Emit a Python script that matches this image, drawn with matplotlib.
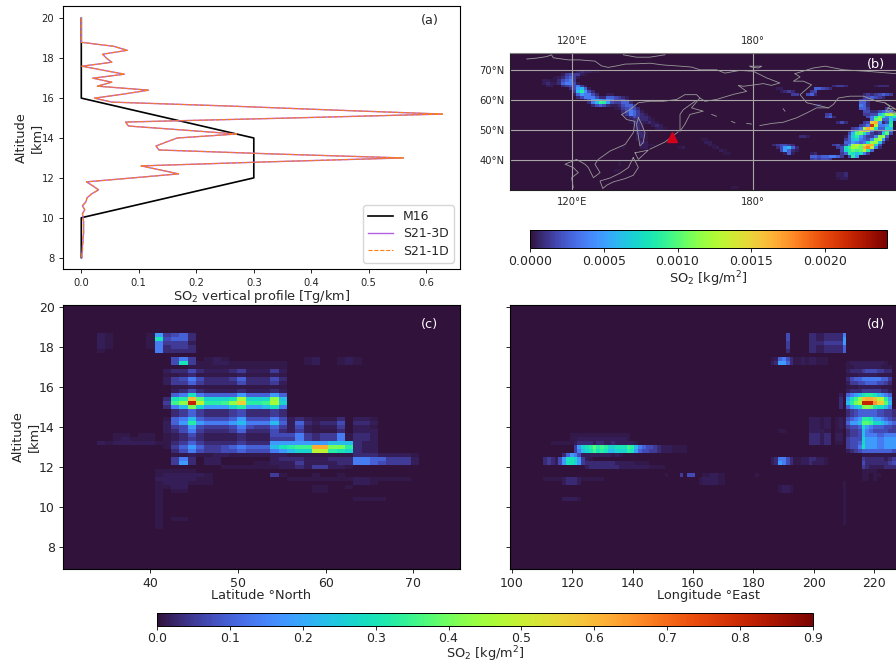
import numpy as np
import matplotlib
matplotlib.use("Agg")
import matplotlib.pyplot as plt

W, H = 896, 663
TEXT = "#262626"
CMAP = "turbo"

# cell levels: one character per cell, looked up as a share of the colour range
LEVELS = "0123456789abcdefghijklmnopqrstuvwx"
LOW_SHARES = [0, .008, .018, .032, .055, .08, .11, .15, .2, .25]

# (a) vertical profiles
ALTITUDE = np.linspace(20, 8, 61)
S21_PROFILE = [0, 0, 0, 0, 0, 0, 0,
               .056, .08, .037, .044, .053, .001, .038, .075, .02, .053, .028, .117, .073, .023,
               .053, .26, .44, .628, .36, .077, .082, .177, .27, .167, .148, .13, .135, .334, .56,
               .32, .104, .137, .169, .09, .009, .02, .03, .018, .01, .008, .002, .006, .002, .003,
               .004, .004, .004, .004, .003, .003, .002, .002, .001, .001]
M16_ALT = [20, 16, 14, 12, 10, 8]
M16_VAL = [0, 0, 0.3, 0.3, 0, 0]

# (c) altitude / latitude cells, rows from 18.7 km downwards
C_ROWS = [
    [(0, "2100001845 63")], [(0, "2100001b56 63")], [(0, "2100001744 42")], [(0, "2100001734 43")],
    [(0, "1000000733 33")], [],
    [(0, "0000000005 7401210000 0000012001 21")],
    [(0, "0000000005 b411221111 1110012001 21")],
    [(0, "0000000000 0111111111 111")],
    [(0, "0000000023 3532223422 242")],
    [(0, "0000000011 2311111211 121")],
    [(0, "0000000024 5753334633 353")],
    [(0, "0000000024 4643333533 342")],
    [(0, "0000000001 1211111111 111")],
    [(0, "0000000002 3532222322 232")],
    [(0, "0000000006 7b76666866 686")],
    [(0, "000000003b cmeaaabhaa ag9")],
    [(0, "000000004d guiccdglcc dha")],
    [(0, "0000000037 9fa888ac88 9b7")],
    [(0, "0000000003 4643334533 343")],
    [(0, "0000000003 4643334533 343")],
    [(0, "0000000016 7965556855 5752321113 0221")],
    [(0, "0000000026 8c87778977 7962632335 0332")],
    [(0, "0000000024 5854445754 4642521224 0221")],
    [(0, "0000000023 5743334633 3532421113 0222")],
    [(0, "0011011012 3532222322 2555743447 1332")],
    [(0, "0012111012 3432222322 2444743447 1332")],
    [(0, "2122222113 4643333433 3888888899 9322")],
    [(0, "0000000014 6864456766 69bcddnnff c322")],
    [(0, "0000000003 5754455655 5789aaiicb a322")],
    [(0, "0000000001 1211221111 1221111111 133322221")],
    [(0, "0000000004 7302200000 0233322233 377664442")],
    [(0, "0000000004 8302200001 1222422223 377654442")],
    [(15, "11111"), (20, "1122324422 1")],
    [(7, "111 11")],
    [(7, "122 2221"), (21, "41"), (26, "1"), (29, "1")],
    [(7, "222 2211"), (23, "1111111 12211111")],
    [(7, "122 2111"), (31, "221")],
    [(7, "112 2"), (26, "11"), (30, "1")],
    [(7, "101 1"), (26, "11")],
    [(7, "1")],
    [(7, "1"), (31, "1111")],
    [(7, "1")], [(7, "1")], [(7, "1")], [(7, "1")],
    [(7, "101 1")],
    [(7, "1")], [(7, "1")],
]

# (d) altitude / longitude cells, same rows
D_ROWS = [
    [(72, "5"), (78, "3322333337")],
    [(72, "5"), (78, "3322333338")],
    [(72, "4"), (78, "3333444448")],
    [(72, "4"), (78, "3322333336")],
    [(72, "3"), (78, "3322333336")],
    [],
    [(68, "126753112122111")],
    [(68, "238863112122111"), (88, "12222222221")],
    [(88, "112222222111")],
    [(88, "233345554433")],
    [(88, "111222221111")],
    [(88, "356677777664")],
    [(88, "244556665543")],
    [(88, "111222222111")],
    [(88, "233344444332")],
    [(86, "2"), (88, "6789bccb9876")],
    [(86, "3"), (88, "8bdgmnnmhic8")],
    [(86, "3"), (88, "9cfhuuuolle9")],
    [(86, "3"), (88, "689afgfcbb97")],
    [(88, "3456666655443")],
    [(88, "34566666554432")],
    [(78, "222122"), (85, "121"), (88, "5678ccb8876543")],
    [(78, "222122"), (85, "121"), (88, "6889eedaa98765")],
    [(78, "222122"), (85, "121"), (88, "4556a876665543")],
    [(70, "11"), (78, "222211"), (85, "11"), (88, "34459765555443")],
    [(15, "1111111111111111"), (78, "333233"), (85, "22"), (88, "34459777667777")],
    [(15, "1122222222222221"), (78, "333233"), (85, "22"), (88, "4555a888778888")],
    [(10, "111111"), (16, "23333233223222221"), (78, "333233"), (85, "11"), (88, "4556a888778888")],
    [(16, "48abcecdcaabbbdc97655432221111"), (88, "4557b888778888")],
    [(16, "479abdbcb99aaacb86554432221111"), (88, "23456666666655")],
    [(13, "3687522222222121"), (92, "1111111111")],
    [(8, "343258bba8421"), (68, "237753112233221"), (92, "4333332344")],
    [(8, "343258bba843333333322222 1111"), (68, "238753112232221"), (92, "5333333454")],
    [(19, "2 33333333 22222222 1111"), (92, "4322223333")],
    [(92, "1111")],
    [(40, "1"), (44, "4"), (46, "55"), (50, "112211"), (64, "1"), (92, "11"), (95, "11")],
    [(8, "1111123332111111"), (49, "1222211"), (92, "11"), (95, "1")],
    [(13, "23332"), (49, "1222211"), (87, "1")],
    [(70, "1221"), (87, "1")],
    [(70, "1221"), (87, "1")],
    [(87, "1")],
    [(13, "22221"), (87, "1")],
    [(87, "1")], [(87, "1")], [(87, "1")], [(87, "1")], [(87, "1")], [(87, "1")], [],
]

# (b) column load cells, rows from 70.9N downwards, columns from 100E
MAP_ROWS = [
    [],
    [(17, "232211")],
    [(13, "2454421")],
    [(11, "1235642")],
    [(8, "221135674")],
    [(8, "2322367752")],
    [(9, "22"), (13, "3455742"), (85, "3443"), (96, "2333")],
    [(15, "358962"), (70, "22"), (80, "66543")],
    [(16, "49c853"), (71, "2343"), (79, "45")],
    [(16, "2687753"), (25, "22"), (74, "44"), (78, "563"), (93, "34345654")],
    [(17, "35777533665432"), (93, "4565"), (97, "43")],
    [(19, "358987875553"), (92, "4543")],
    [(20, "379dc8544663"), (92, "663")],
    [(21, "356532235663"), (80, "23"), (92, "763")],
    [(27, "1245653"), (92, "664"), (99, "4")],
    [(29, "357642"), (93, "553"), (96, "35677")],
    [(29, "2476432"), (83, "45"), (93, "44559cgie")],
    [(30, "2354332"), (83, "563"), (94, "57cfb79b")],
    [(31, "2333321"), (95, "7eg66a7")],
    [(31, "13322321"), (86, "353"), (93, "45ln835b")],
    [(32, "232"), (37, "232"), (92, "457th778c")],
    [(32, "232"), (38, "221"), (90, "457hnkb66a9")],
    [(32, "132"), (89, "37cimg7348d7")],
    [(33, "331"), (89, "59efb7434ae5")],
    [(33, "231"), (76, "332"), (88, "26ac86447fg6")],
    [(33, "221"), (50, "11"), (88, "469a7658fh83")],
    [(34, "32"), (51, "22"), (88, "668767bgg94")],
    [(34, "2211"), (52, "21"), (69, "345543"), (85, "453"), (88, "58gjfinna5")],
    [(29, "1"), (34, "22"), (44, "12"), (53, "12"), (70, "358963"), (86, "45"), (88, "bdhgenpi73")],
    [(55, "21"), (71, "58632"), (87, "5acedejc6")],
    [(56, "11"), (72, "262"), (79, "23"), (87, "46cb9b74")],
    [(79, "665667764"), (89, "5c8")],
    [(79, "454554")],
    [(28, "1")],
    [(28, "1")],
    [],
    [(27, "11")],
    [(86, "223")],
    [(86, "223")],
    [(86, "122")],
    [],
    [],
    [(58, "11")],
]

# coast outlines as lon, lat
COASTS = [
    [(104.9, 73.8), (108.2, 74.1), (111.5, 74.6), (113.1, 75.2), (113.7, 74.2), (118.7, 73.5), (122.5, 73.5),
     (124.8, 73.3), (127.5, 73.1), (129.7, 71.5), (131.9, 71.0), (134.7, 71.5), (137.5, 72.1), (141.3, 72.2),
     (145.7, 72.4), (150.2, 71.8), (154.6, 71.5), (159.6, 71.1), (162.3, 70.2), (167.8, 70.2), (170.6, 69.1),
     (175.6, 70), (180, 69.7), (184.4, 67.5), (188.8, 65.8), (186, 65), (183.3, 65.6), (180.6, 65.2),
     (176.7, 64.7), (175, 65), (177.8, 63), (173.4, 62), (167.8, 60.3), (164, 59.7), (162.3, 60.8)],
    [(136.9, 75.2), (141.3, 74.4), (145.7, 74.4), (150.7, 75.2)],
    [(136.4, 55.3), (139.1, 56.9), (141.9, 59.2), (145.7, 59.7), (150.2, 59.7), (154.6, 60.3), (157.3, 61.9),
     (161.2, 61.9), (162.3, 60.8), (159.5, 57.5), (163.4, 56.4), (159, 55.3), (157.3, 52), (155.7, 49.7),
     (155.7, 55.3), (156.8, 56.9), (160.7, 59.7)],
    [(155.1, 49.5), (150.7, 46.1), (145.7, 43.7)],
    [(141.9, 54.2), (143, 52), (144.1, 49.2), (143.5, 45.9), (142.4, 44.8), (141.9, 48.1), (141.3, 52), (141.9, 54.2)],
    [(136.4, 55.3), (138, 53.6), (140.8, 53), (140.2, 49.2), (137.5, 45.3), (132.5, 43.1), (128.6, 40.3),
     (127.5, 38.7), (129.2, 35.9), (127, 34.2), (125.3, 37.6), (124.2, 38.7), (121.4, 40.3), (117.6, 38.7),
     (120.3, 37.6), (122, 35.9), (119.8, 34.2), (120.3, 30.9)],
    [(140.8, 42.5), (145.2, 43.4), (141.9, 40.3), (140.8, 42.5)],
    [(140.2, 40.9), (141.1, 39.2), (141.9, 37.6), (140.2, 35), (137.5, 33.9), (133.6, 32.8), (131.4, 31.7),
     (130.1, 30.6), (129.2, 33.1), (132.5, 34.1), (135.8, 35.7), (138.6, 37.6), (140.2, 40.9)],
    [(193.8, 68.9), (199.9, 70.8), (203.8, 71.4), (209.8, 70.2), (217.6, 69.7), (227.3, 68.9)],
    [(193.8, 68.9), (195.5, 67.8), (193.3, 66.4), (196.6, 66.4), (199.3, 65.2), (195.5, 61.9), (197.7, 59.2),
     (200.4, 58.6), (204.9, 57.5), (206.5, 58.6), (208.2, 60.8), (212, 61.4), (216.5, 61.4), (220.9, 59.7),
     (223.6, 59.2), (225.2, 58), (224, 56.5), (227.3, 55.3)],
    [(223.6, 59.2), (227.3, 57), (224.5, 57.5), (227.3, 56), (225, 55.8)],
    [(204.9, 57.5), (201, 57.5), (197.7, 55.8), (194.4, 54.2), (189.9, 52.7), (186.1, 52.3), (182.2, 51.6)],
    [(166.2, 55.3), (167.8, 54.7)], [(172.8, 53), (173.9, 52.5)], [(177.8, 52.3), (179.4, 52.1)],
    [(189.9, 57.2), (190.5, 56.4)],
    [(178.9, 71.4), (182.8, 71.4), (181.7, 70.8), (179.4, 71.1), (178.9, 71.4)],
]
VOLCANO = (152.9, 47.9)


def share(ch):
    level = LEVELS.index(ch)
    return LOW_SHARES[level] if level < len(LOW_SHARES) else level * 0.03


def cells(rows, ncols, vmax):
    grid = np.zeros((len(rows), ncols))
    for i, segments in enumerate(rows):
        for start, text in segments:
            for k, ch in enumerate(text.replace(" ", "")):
                grid[i, start + k] = share(ch) * vmax
    return grid


def px_axes(left, top, right, bottom):
    return fig.add_axes([left / W, 1 - bottom / H, (right - left) / W, (bottom - top) / H])


plt.rcParams["text.color"] = TEXT
plt.rcParams["axes.labelcolor"] = TEXT
plt.rcParams["xtick.color"] = TEXT
plt.rcParams["ytick.color"] = TEXT
plt.rcParams["mathtext.default"] = "regular"

fig = plt.figure(figsize=(W / 100, H / 100), dpi=100)
back = plt.get_cmap(CMAP)(0.0)

# panel a
ax = px_axes(63.3, 6, 460, 269)
ax.plot(M16_VAL, M16_ALT, color="black", lw=1.2, label="M16")
ax.plot(S21_PROFILE, ALTITUDE, color="#b45fdc", lw=1.0, label="S21-3D")
ax.plot(S21_PROFILE, ALTITUDE, color="#ff7f0e", lw=0.8, ls="--", label="S21-1D")
ax.set_xlim(-0.0313, 0.6586)
ax.set_ylim(7.43, 20.62)
ax.set_xticks(np.arange(0, 0.61, 0.1))
ax.set_yticks(np.arange(8, 21, 2))
ax.tick_params(labelsize=7.2, length=3, width=0.7)
ax.set_xlabel("SO$_2$ vertical profile [Tg/km]", fontsize=9.3, labelpad=0)
ax.set_ylabel("Altitude\n[km]", fontsize=9.3, labelpad=-1)
ax.legend(loc="lower right", fontsize=9, borderaxespad=0.5, labelspacing=0.35)
ax.text(429.7 / W, 1 - 20.7 / H, "(a)", transform=fig.transFigure, fontsize=9.3, ha="center", va="center")

# panel b
ax = px_axes(510, 53.3, 896, 190.3)
ax.set_facecolor(back)
lon_edges = 100 + 1.25 * np.arange(103)
lat_edges = 70.886 - 0.9375 * np.arange(len(MAP_ROWS) + 1)
mesh_b = ax.pcolormesh(lon_edges, lat_edges, cells(MAP_ROWS, 102, 0.00242), cmap=CMAP, vmin=0, vmax=0.00242)
for coast in COASTS:
    ax.plot([p[0] for p in coast], [p[1] for p in coast], color="#9a9a9a", lw=0.6)
ax.plot([VOLCANO[0]], [VOLCANO[1]], marker="^", ms=7, color="#d4001a", ls="none")
ax.set_xlim(99.35, 227.3)
ax.set_ylim(30, 75.7)
ax.set_xticks([120, 180], ["120°E", "180°"])
ax.set_yticks([40, 50, 60, 70], ["40°N", "50°N", "60°N", "70°N"])
ax.grid(color="#a8a4a8", lw=0.8)
ax.tick_params(labelsize=7.2, length=0, top=True, labeltop=True, pad=5)
ax.tick_params(axis="y", pad=4)
for name, spine in ax.spines.items():
    spine.set_color("#808080" if name == "top" else "#202020")
ax.spines["right"].set_visible(False)
ax.text(876 / W, 1 - 64.3 / H, "(b)", transform=fig.transFigure, color="white", fontsize=9.3, ha="center", va="center")

cax = px_axes(530, 230.3, 887, 248.3)
cbar = fig.colorbar(mesh_b, cax=cax, orientation="horizontal")
cbar.set_ticks([0, 0.0005, 0.001, 0.0015, 0.002], labels=["0.0000", "0.0005", "0.0010", "0.0015", "0.0020"])
cbar.ax.tick_params(labelsize=9, length=3, width=0.7, pad=1.5)
cbar.set_label("SO$_2$ [kg/m$^2$]", fontsize=9.3, labelpad=1)
cbar.outline.set_linewidth(0.7)

# panel c
ax = px_axes(63, 305, 460, 569)
ax.set_facecolor(back)
lat_c = 33.93 + 0.9425 * np.arange(41)
alt_c = 18.7 - 0.2 * np.arange(len(C_ROWS) + 1)
mesh_c = ax.pcolormesh(lat_c, alt_c, cells(C_ROWS, 40, 0.9), cmap=CMAP, vmin=0, vmax=0.9)
ax.set_xlim(30.1, 75.3)
ax.set_ylim(6.88, 20.1)
ax.set_xticks([40, 50, 60, 70])
ax.set_yticks(np.arange(8, 21, 2))
ax.tick_params(labelsize=9, length=3, width=0.7, pad=3)
ax.set_xlabel("Latitude °North", fontsize=9.3, labelpad=-1)
ax.set_ylabel("Altitude\n[km]", fontsize=9.3, labelpad=-1)
ax.text(429.3 / W, 1 - 324.3 / H, "(c)", transform=fig.transFigure, color="white", fontsize=9.3, ha="center", va="center")

# panel d runs past the right edge of the page
ax = px_axes(510, 305, 906, 569)
ax.set_facecolor(back)
lon_d = 100.4 + 1.255 * np.arange(103)
ax.pcolormesh(lon_d, alt_c, cells(D_ROWS, 102, 0.9), cmap=CMAP, vmin=0, vmax=0.9)
ax.set_xlim(99.44, 230.55)
ax.set_ylim(6.88, 20.1)
ax.set_xticks(np.arange(100, 221, 20))
ax.set_yticks(np.arange(8, 21, 2), [])
ax.tick_params(labelsize=9, length=3, width=0.7, pad=3)
ax.set_xlabel("Longitude °East", fontsize=9.3, labelpad=-1)
ax.text(876 / W, 1 - 324.3 / H, "(d)", transform=fig.transFigure, color="white", fontsize=9.3, ha="center", va="center")

cax = px_axes(157, 613, 813, 626)
cbar = fig.colorbar(mesh_c, cax=cax, orientation="horizontal")
cbar.set_ticks(np.arange(0, 0.91, 0.1))
cbar.ax.tick_params(labelsize=9, length=3, width=0.7, pad=1)
cbar.set_label("SO$_2$ [kg/m$^2$]", fontsize=9.3, labelpad=0)
cbar.outline.set_linewidth(0.7)

fig.savefig("out.png", dpi=100)
